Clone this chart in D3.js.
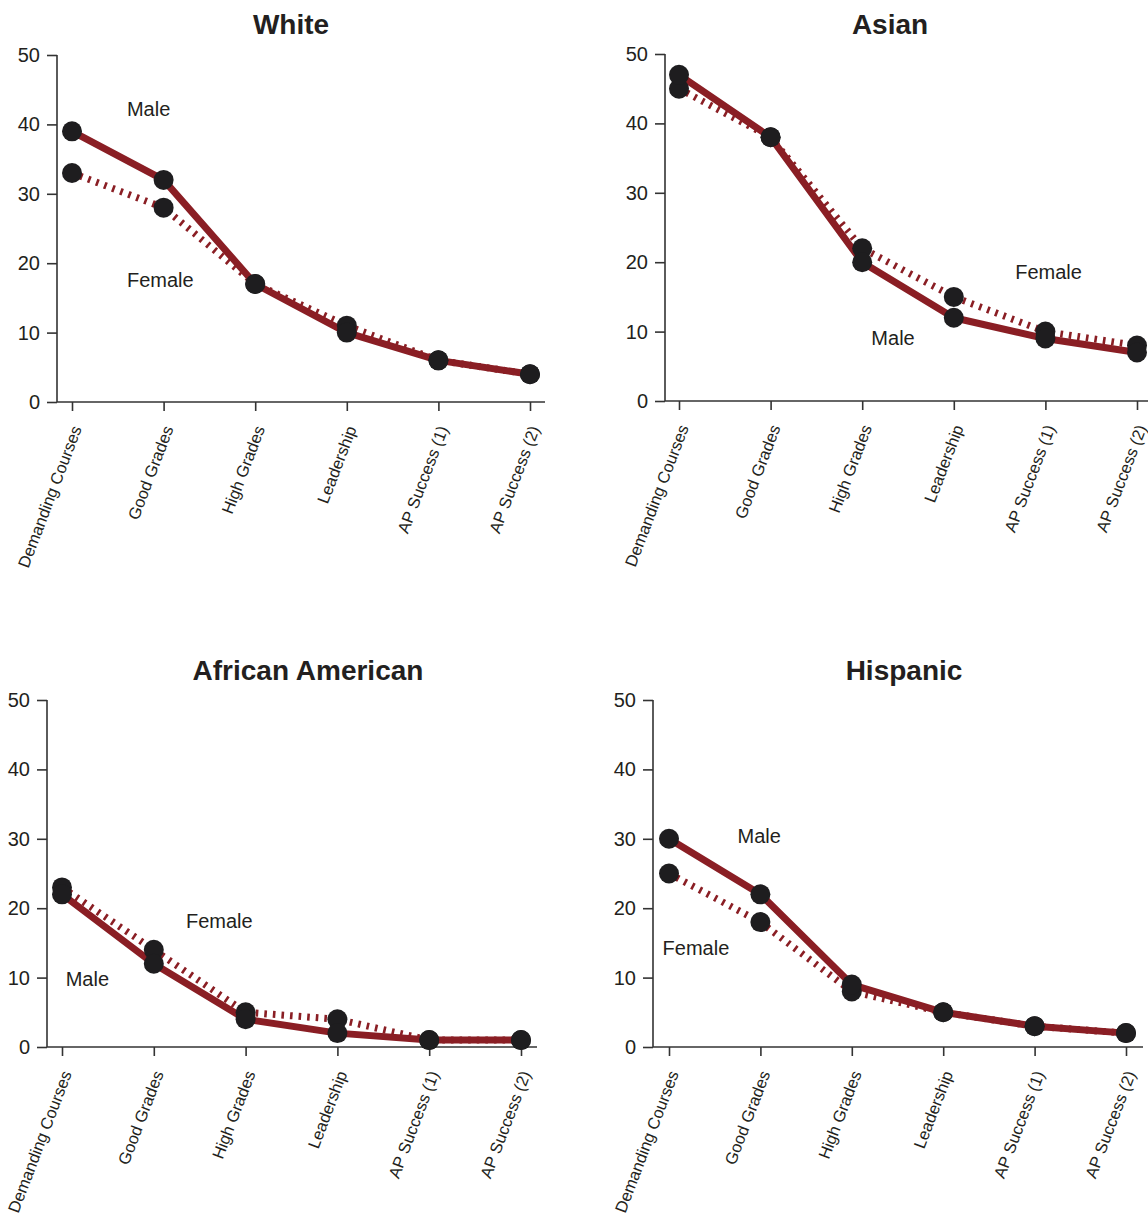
<!DOCTYPE html>
<html>
<head>
<meta charset="utf-8">
<script src="https://cdn.jsdelivr.net/npm/d3@7"></script>
<style>
  html, body { margin: 0; padding: 0; background: #fff; }
  svg { display: block; font-family: "Liberation Sans", Arial, Helvetica, sans-serif; }
</style>
</head>
<body>
<svg id="chart" width="1148" height="1219"></svg>
<script>
// ---- data ----
const categories = ["Demanding Courses", "Good Grades", "High Grades", "Leadership", "AP Success (1)", "AP Success (2)"];
const yTicks = [0, 10, 20, 30, 40, 50];
const groups = ["White", "Asian", "African American", "Hispanic"];

const whiteMale     = [39, 32, 17, 10, 6, 4];
const whiteFemale   = [33, 28, 17, 11, 6, 4];
const asianMale     = [47, 38, 20, 12, 9, 7];
const asianFemale   = [45, 38, 22, 15, 10, 8];
const africanMale   = [22, 12, 4, 2, 1, 1];
const africanFemale = [23, 14, 5, 4, 1, 1];
const hispanicMale  = [30, 22, 9, 5, 3, 2];
const hispanicFemale= [25, 18, 8, 5, 3, 2];

// series labels placed in data space: [label, category-index position, value]
const whiteLabels    = [["Male", 0.6, 42.0], ["Female", 0.6, 17.4]];
const asianLabels    = [["Female", 3.67, 18.4], ["Male", 2.1, 8.9]];
const africanLabels  = [["Female", 1.35, 17.9], ["Male", 0.04, 9.5]];
const hispanicLabels = [["Male", 0.75, 30.1], ["Female", -0.07, 14.0]];

// ---- layout ----
const layout = [
  { axisX: 57,  yTop: 55,  yBot: 402,  x0: 72,  x1: 530,  axisEnd: 545,  tx: 291, ty: 27 },
  { axisX: 665, yTop: 54,  yBot: 401,  x0: 679, x1: 1137, axisEnd: 1152, tx: 890, ty: 27 },
  { axisX: 47,  yTop: 700, yBot: 1047, x0: 62,  x1: 521,  axisEnd: 537,  tx: 308, ty: 673 },
  { axisX: 653, yTop: 700, yBot: 1047, x0: 669, x1: 1126, axisEnd: 1143, tx: 904, ty: 673 }
];
const panelData = [
  { male: whiteMale, female: whiteFemale, labels: whiteLabels },
  { male: asianMale, female: asianFemale, labels: asianLabels },
  { male: africanMale, female: africanFemale, labels: africanLabels },
  { male: hispanicMale, female: hispanicFemale, labels: hispanicLabels }
];

const lineColor = "#8a1e24";
const dotColor = "#1e1d1f";
const axisColor = "#333";
const textColor = "#231f20";

const svg = d3.select("#chart");

groups.forEach((g, i) => {
  const L = layout[i], D = panelData[i];
  const gp = svg.append("g");

  const x = d3.scalePoint().domain(categories).range([L.x0, L.x1]);
  const xi = d3.scaleLinear().domain([0, categories.length - 1]).range([L.x0, L.x1]);
  const y = d3.scaleLinear().domain([0, 50]).range([L.yBot, L.yTop]);

  // title
  gp.append("text")
    .attr("x", L.tx).attr("y", L.ty)
    .attr("text-anchor", "middle").attr("dominant-baseline", "middle")
    .attr("font-size", 28).attr("font-weight", "bold")
    .attr("fill", textColor).text(g);

  // y axis
  const yAxis = gp.append("g").attr("transform", `translate(${L.axisX},0)`)
    .call(d3.axisLeft(y).tickValues(yTicks).tickSize(10).tickPadding(7).tickSizeOuter(0));
  yAxis.select(".domain").attr("stroke", axisColor).attr("stroke-width", 1.6)
    .attr("d", `M0,${L.yTop}V${L.yBot}`);
  yAxis.selectAll(".tick line").attr("stroke", axisColor).attr("stroke-width", 1.6);
  yAxis.selectAll(".tick text").attr("font-size", 20).attr("fill", textColor)
    .attr("font-family", "Liberation Sans, Arial, sans-serif");

  // x axis
  const xAxis = gp.append("g").attr("transform", `translate(0,${L.yBot})`)
    .call(d3.axisBottom(x).tickSize(9).tickSizeOuter(0).tickFormat(""));
  xAxis.select(".domain").attr("stroke", axisColor).attr("stroke-width", 1.6)
    .attr("d", `M${L.axisX},0H${L.axisEnd}`);
  xAxis.selectAll(".tick line").attr("stroke", axisColor).attr("stroke-width", 1.6);

  // rotated category labels
  gp.selectAll("text.cat").data(categories).join("text")
    .attr("class", "cat")
    .attr("transform", d => `translate(${x(d) + 6},${L.yBot + 25}) rotate(-69)`)
    .attr("text-anchor", "end").attr("dominant-baseline", "middle")
    .attr("font-size", 16.5).attr("fill", textColor).text(d => d);

  const line = d3.line().x((d, k) => x(categories[k])).y(d => y(d));

  // female dashed line
  gp.append("path").datum(D.female)
    .attr("d", line).attr("fill", "none")
    .attr("stroke", lineColor).attr("stroke-width", 7)
    .attr("stroke-dasharray", "2.6,6");
  // male solid line
  gp.append("path").datum(D.male)
    .attr("d", line).attr("fill", "none")
    .attr("stroke", lineColor).attr("stroke-width", 7)
    .attr("stroke-linejoin", "round");

  // dots
  gp.selectAll("circle.f").data(D.female).join("circle").attr("class", "f")
    .attr("cx", (d, k) => x(categories[k])).attr("cy", d => y(d))
    .attr("r", 10).attr("fill", dotColor);
  gp.selectAll("circle.m").data(D.male).join("circle").attr("class", "m")
    .attr("cx", (d, k) => x(categories[k])).attr("cy", d => y(d))
    .attr("r", 10).attr("fill", dotColor);

  // series labels
  gp.selectAll("text.lab").data(D.labels).join("text").attr("class", "lab")
    .attr("x", d => xi(d[1])).attr("y", d => y(d[2]))
    .attr("dominant-baseline", "middle")
    .attr("font-size", 20).attr("fill", textColor).text(d => d[0]);
});
</script>
</body>
</html>
